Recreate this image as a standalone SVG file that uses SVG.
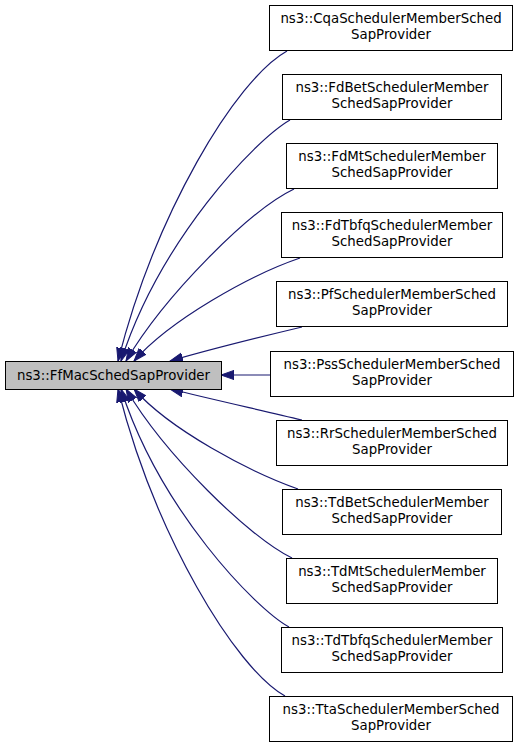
<svg xmlns="http://www.w3.org/2000/svg" width="520" height="749" viewBox="0 0 520 749">
<defs>
<style>
.box{fill:#ffffff;stroke:#000000;stroke-width:1}
.base{fill:#bfbfbf;stroke:#000000;stroke-width:1}
.lbl{font-family:"DejaVu Sans","Liberation Sans",sans-serif;font-size:13.33px;fill:#000000;text-anchor:middle}
.edge{fill:none;stroke:#191970;stroke-width:1.2}
</style>
<marker id="arr" markerUnits="userSpaceOnUse" markerWidth="14" markerHeight="12" refX="13" refY="0" viewBox="0 -6 14 12" orient="auto">
<path d="M0,-4.6 L13,0 L0,4.6 z" fill="#191970" stroke="#191970" stroke-width="1"/>
</marker>
</defs>
<rect width="520" height="749" fill="#ffffff"/>
<g id="edges">
<path class="edge" marker-end="url(#arr)" d="M287,51 C235,80 155,215 118,361"/>
<path class="edge" marker-end="url(#arr)" d="M290,120 C255,140 160,240 121,361"/>
<path class="edge" marker-end="url(#arr)" d="M294,189 C250,210 165,295 126,361"/>
<path class="edge" marker-end="url(#arr)" d="M300,258 C250,275 170,320 134,361"/>
<path class="edge" marker-end="url(#arr)" d="M302,327 C260,337 215,348 170,361"/>
<path class="edge" marker-end="url(#arr)" d="M270,375 L221,375"/>
<path class="edge" marker-end="url(#arr)" d="M302,420 C260,410 215,400 170,389"/>
<path class="edge" marker-end="url(#arr)" d="M298,489 C250,472 170,430 134,389"/>
<path class="edge" marker-end="url(#arr)" d="M292,558 C250,538 165,455 126,389"/>
<path class="edge" marker-end="url(#arr)" d="M289,627 C255,608 160,510 121,389"/>
<path class="edge" marker-end="url(#arr)" d="M285,696 C235,668 155,535 118,389"/>
</g>
<g id="FfMacSchedSapProvider">
<rect class="base" x="5.5" y="361.5" width="216" height="28"/>
<text class="lbl" x="113.5" y="380">ns3::FfMacSchedSapProvider</text>
</g>
<g id="CqaSchedulerMemberSchedSapProvider">
<rect class="box" x="269.5" y="5.5" width="243" height="45"/>
<text class="lbl" x="391" y="23">ns3::CqaSchedulerMemberSched</text>
<text class="lbl" x="391" y="39">SapProvider</text>
</g>
<g id="FdBetSchedulerMemberSchedSapProvider">
<rect class="box" x="282.5" y="74.5" width="219" height="45"/>
<text class="lbl" x="392" y="92">ns3::FdBetSchedulerMember</text>
<text class="lbl" x="392" y="108">SchedSapProvider</text>
</g>
<g id="FdMtSchedulerMemberSchedSapProvider">
<rect class="box" x="286.5" y="143.5" width="211" height="45"/>
<text class="lbl" x="392" y="161">ns3::FdMtSchedulerMember</text>
<text class="lbl" x="392" y="177">SchedSapProvider</text>
</g>
<g id="FdTbfqSchedulerMemberSchedSapProvider">
<rect class="box" x="281.5" y="212.5" width="221" height="45"/>
<text class="lbl" x="392" y="230">ns3::FdTbfqSchedulerMember</text>
<text class="lbl" x="392" y="246">SchedSapProvider</text>
</g>
<g id="PfSchedulerMemberSchedSapProvider">
<rect class="box" x="276.5" y="281.5" width="231" height="45"/>
<text class="lbl" x="392" y="299">ns3::PfSchedulerMemberSched</text>
<text class="lbl" x="392" y="315">SapProvider</text>
</g>
<g id="PssSchedulerMemberSchedSapProvider">
<rect class="box" x="270.5" y="351.5" width="243" height="45"/>
<text class="lbl" x="392" y="369">ns3::PssSchedulerMemberSched</text>
<text class="lbl" x="392" y="385">SapProvider</text>
</g>
<g id="RrSchedulerMemberSchedSapProvider">
<rect class="box" x="276.5" y="420.5" width="231" height="45"/>
<text class="lbl" x="392" y="438">ns3::RrSchedulerMemberSched</text>
<text class="lbl" x="392" y="454">SapProvider</text>
</g>
<g id="TdBetSchedulerMemberSchedSapProvider">
<rect class="box" x="282.5" y="489.5" width="219" height="45"/>
<text class="lbl" x="392" y="507">ns3::TdBetSchedulerMember</text>
<text class="lbl" x="392" y="523">SchedSapProvider</text>
</g>
<g id="TdMtSchedulerMemberSchedSapProvider">
<rect class="box" x="286.5" y="558.5" width="211" height="45"/>
<text class="lbl" x="392" y="576">ns3::TdMtSchedulerMember</text>
<text class="lbl" x="392" y="592">SchedSapProvider</text>
</g>
<g id="TdTbfqSchedulerMemberSchedSapProvider">
<rect class="box" x="281.5" y="627.5" width="221" height="45"/>
<text class="lbl" x="392" y="645">ns3::TdTbfqSchedulerMember</text>
<text class="lbl" x="392" y="661">SchedSapProvider</text>
</g>
<g id="TtaSchedulerMemberSchedSapProvider">
<rect class="box" x="269.5" y="696.5" width="243" height="45"/>
<text class="lbl" x="391" y="714">ns3::TtaSchedulerMemberSched</text>
<text class="lbl" x="391" y="730">SapProvider</text>
</g>
</svg>
